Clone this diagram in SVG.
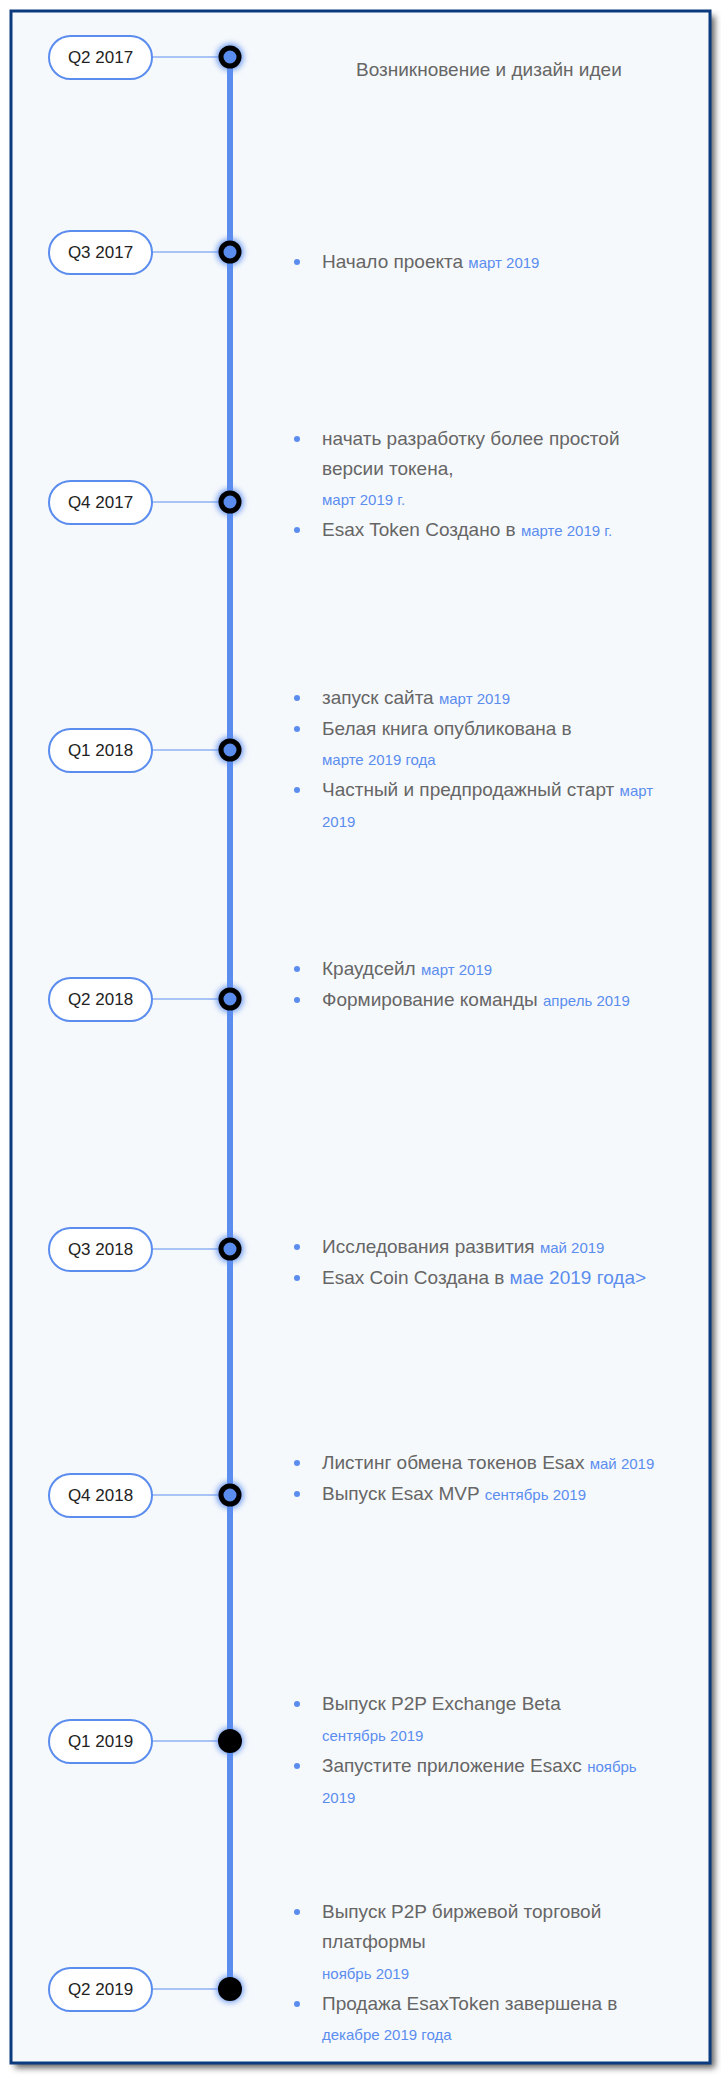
<svg xmlns="http://www.w3.org/2000/svg" width="721" height="2077" viewBox="0 0 721 2077">
<defs>
<filter id="glow" x="-1" y="-1" width="3" height="3"><feGaussianBlur stdDeviation="3"/></filter>
<filter id="sh" x="-0.05" y="-0.05" width="1.1" height="1.1"><feGaussianBlur stdDeviation="3"/></filter>
<style>
.pill{fill:#fff;stroke:#5b8def;stroke-width:2}
.pt{font-family:"Liberation Sans",sans-serif;font-size:17px;fill:#222;text-anchor:middle}
.t{font-family:"Liberation Sans",sans-serif;font-size:19px;fill:#666}
.d{font-family:"Liberation Sans",sans-serif;font-size:15px;fill:#5b8def}
.b{fill:#5b8def}
.cn{stroke:#5b8def;stroke-width:1}
</style>
</defs>
<rect x="15" y="16" width="700" height="2052" fill="#666" filter="url(#sh)"/>
<rect x="11" y="11" width="699" height="2052" fill="#f6f9fc" stroke="#0b3a7e" stroke-width="3"/>
<g id="connectors">
<line x1="230" y1="57" x2="230" y2="1989" stroke="#5b8def" stroke-width="6"/>
<line class="cn" x1="152" y1="57" x2="220" y2="57"/>
<line class="cn" x1="152" y1="252" x2="220" y2="252"/>
<line class="cn" x1="152" y1="502" x2="220" y2="502"/>
<line class="cn" x1="152" y1="750" x2="220" y2="750"/>
<line class="cn" x1="152" y1="999" x2="220" y2="999"/>
<line class="cn" x1="152" y1="1249" x2="220" y2="1249"/>
<line class="cn" x1="152" y1="1495" x2="220" y2="1495"/>
<line class="cn" x1="152" y1="1741" x2="220" y2="1741"/>
<line class="cn" x1="152" y1="1989" x2="220" y2="1989"/>
</g>
<g id="n1"><rect class="pill" x="49" y="36" width="103" height="43" rx="21.5"/><text class="pt" x="100.5" y="63">Q2 2017</text>
<circle cx="230" cy="57" r="13" fill="#5b8def" filter="url(#glow)"/><circle cx="230" cy="57" r="9" fill="#5b8def" stroke="#000" stroke-width="5"/>
<text class="t" x="356" y="76" font-size="20">Возникновение и дизайн идеи</text></g>
<g id="n2"><rect class="pill" x="49" y="231" width="103" height="43" rx="21.5"/><text class="pt" x="100.5" y="258">Q3 2017</text>
<circle cx="230" cy="252" r="13" fill="#5b8def" filter="url(#glow)"/><circle cx="230" cy="252" r="9" fill="#5b8def" stroke="#000" stroke-width="5"/>
<circle class="b" cx="297" cy="262" r="3"/><text class="t" x="322" y="268">Начало проекта <tspan class="d">март 2019</tspan></text></g>
<g id="n3"><rect class="pill" x="49" y="481" width="103" height="43" rx="21.5"/><text class="pt" x="100.5" y="508">Q4 2017</text>
<circle cx="230" cy="502" r="13" fill="#5b8def" filter="url(#glow)"/><circle cx="230" cy="502" r="9" fill="#5b8def" stroke="#000" stroke-width="5"/>
<circle class="b" cx="297" cy="439" r="3"/><text class="t" x="322" y="445">начать разработку более простой</text>
<text class="t" x="322" y="475">версии токена,</text>
<text class="d" x="322" y="505">март 2019 г.</text>
<circle class="b" cx="297" cy="530" r="3"/><text class="t" x="322" y="536">Esax Token Создано в <tspan class="d">марте 2019 г.</tspan></text></g>
<g id="n4"><rect class="pill" x="49" y="729" width="103" height="43" rx="21.5"/><text class="pt" x="100.5" y="756">Q1 2018</text>
<circle cx="230" cy="750" r="13" fill="#5b8def" filter="url(#glow)"/><circle cx="230" cy="750" r="9" fill="#5b8def" stroke="#000" stroke-width="5"/>
<circle class="b" cx="297" cy="698" r="3"/><text class="t" x="322" y="704">запуск сайта <tspan class="d">март 2019</tspan></text>
<circle class="b" cx="297" cy="729" r="3"/><text class="t" x="322" y="735">Белая книга опубликована в</text>
<text class="d" x="322" y="765">марте 2019 года</text>
<circle class="b" cx="297" cy="790" r="3"/><text class="t" x="322" y="796">Частный и предпродажный старт <tspan class="d">март</tspan></text>
<text class="d" x="322" y="827">2019</text></g>
<g id="n5"><rect class="pill" x="49" y="978" width="103" height="43" rx="21.5"/><text class="pt" x="100.5" y="1005">Q2 2018</text>
<circle cx="230" cy="999" r="13" fill="#5b8def" filter="url(#glow)"/><circle cx="230" cy="999" r="9" fill="#5b8def" stroke="#000" stroke-width="5"/>
<circle class="b" cx="297" cy="969" r="3"/><text class="t" x="322" y="975">Краудсейл <tspan class="d">март 2019</tspan></text>
<circle class="b" cx="297" cy="1000" r="3"/><text class="t" x="322" y="1006">Формирование команды <tspan class="d">апрель 2019</tspan></text></g>
<g id="n6"><rect class="pill" x="49" y="1228" width="103" height="43" rx="21.5"/><text class="pt" x="100.5" y="1255">Q3 2018</text>
<circle cx="230" cy="1249" r="13" fill="#5b8def" filter="url(#glow)"/><circle cx="230" cy="1249" r="9" fill="#5b8def" stroke="#000" stroke-width="5"/>
<circle class="b" cx="297" cy="1247" r="3"/><text class="t" x="322" y="1253">Исследования развития <tspan class="d">май 2019</tspan></text>
<circle class="b" cx="297" cy="1278" r="3"/><text class="t" x="322" y="1284">Esax Coin Создана в <tspan fill="#5b8def">мае 2019 года&gt;</tspan></text></g>
<g id="n7"><rect class="pill" x="49" y="1474" width="103" height="43" rx="21.5"/><text class="pt" x="100.5" y="1501">Q4 2018</text>
<circle cx="230" cy="1495" r="13" fill="#5b8def" filter="url(#glow)"/><circle cx="230" cy="1495" r="9" fill="#5b8def" stroke="#000" stroke-width="5"/>
<circle class="b" cx="297" cy="1463" r="3"/><text class="t" x="322" y="1469">Листинг обмена токенов Esax <tspan class="d">май 2019</tspan></text>
<circle class="b" cx="297" cy="1494" r="3"/><text class="t" x="322" y="1500">Выпуск Esax MVP <tspan class="d">сентябрь 2019</tspan></text></g>
<g id="n8"><rect class="pill" x="49" y="1720" width="103" height="43" rx="21.5"/><text class="pt" x="100.5" y="1747">Q1 2019</text>
<circle cx="230" cy="1741" r="13" fill="#5b8def" filter="url(#glow)"/><circle cx="230" cy="1741" r="12" fill="#000"/>
<circle class="b" cx="297" cy="1704" r="3"/><text class="t" x="322" y="1710">Выпуск P2P Exchange Beta</text>
<text class="d" x="322" y="1741">сентябрь 2019</text>
<circle class="b" cx="297" cy="1766" r="3"/><text class="t" x="322" y="1772">Запустите приложение Esaxc <tspan class="d">ноябрь</tspan></text>
<text class="d" x="322" y="1803">2019</text></g>
<g id="n9"><rect class="pill" x="49" y="1968" width="103" height="43" rx="21.5"/><text class="pt" x="100.5" y="1995">Q2 2019</text>
<circle cx="230" cy="1989" r="13" fill="#5b8def" filter="url(#glow)"/><circle cx="230" cy="1989" r="12" fill="#000"/>
<circle class="b" cx="297" cy="1912" r="3"/><text class="t" x="322" y="1918">Выпуск P2P биржевой торговой</text>
<text class="t" x="322" y="1948">платформы</text>
<text class="d" x="322" y="1979">ноябрь 2019</text>
<circle class="b" cx="297" cy="2004" r="3"/><text class="t" x="322" y="2010">Продажа EsaxToken завершена в</text>
<text class="d" x="322" y="2040">декабре 2019 года</text></g>
</svg>
